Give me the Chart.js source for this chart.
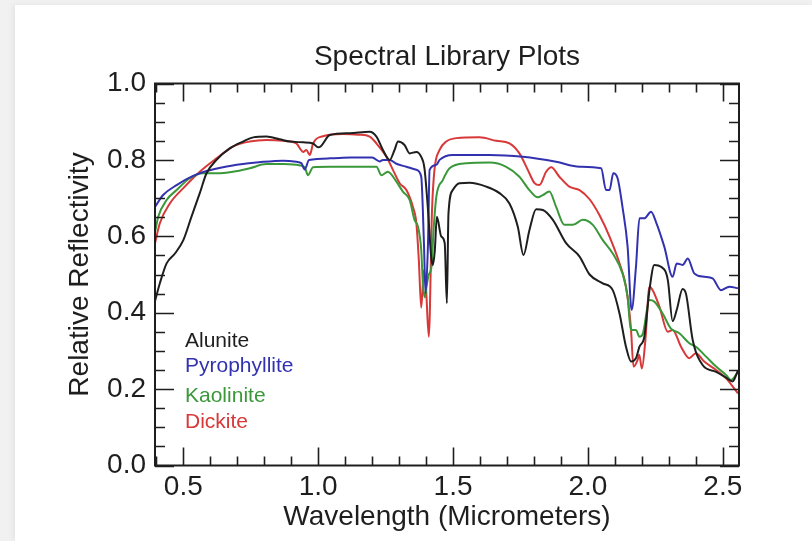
<!DOCTYPE html>
<html>
<head>
<meta charset="utf-8">
<title>Spectral Library Plots</title>
<script src="https://cdn.jsdelivr.net/npm/chart.js@4.4.1/dist/chart.umd.min.js"></script>
<style>
  html, body { margin: 0; padding: 0; background: #f1f1f1; }
  .card { position: absolute; left: 15px; top: 5px; right: 0; bottom: 0; background: #fff;
          box-shadow: -2px 0 6px rgba(0,0,0,0.06); }
  #wrap { position: absolute; left: 0; top: 0; width: 812px; height: 541px; }
</style>
</head>
<body>
<div class="card"></div>
<div id="wrap"><canvas id="spectra" width="812" height="541"></canvas></div>
<script>
// ── Spectra (wavelength µm, relative reflectivity) ───────────
const alunite = [
  [0.395, 0.43], [0.413, 0.477], [0.438, 0.529], [0.469, 0.555], [0.50, 0.59],
  [0.53, 0.651], [0.561, 0.713], [0.586, 0.765], [0.623, 0.80], [0.672, 0.83],
  [0.721, 0.848], [0.759, 0.859], [0.808, 0.861], [0.857, 0.854], [0.894, 0.848],
  [0.944, 0.846], [0.981, 0.843], [1.0, 0.833], [1.01, 0.836], [1.043, 0.865],
  [1.117, 0.870], [1.191, 0.874], [1.216, 0.861], [1.24, 0.826], [1.265, 0.80],
  [1.283, 0.826], [1.296, 0.848], [1.32, 0.839], [1.339, 0.817], [1.364, 0.821],
  [1.382, 0.808], [1.394, 0.778], [1.407, 0.669], [1.419, 0.545], [1.425, 0.525],
  [1.432, 0.56], [1.44, 0.651], [1.456, 0.60], [1.469, 0.582], [1.477, 0.425],
  [1.483, 0.66], [1.499, 0.721], [1.524, 0.739], [1.561, 0.740], [1.623, 0.730],
  [1.672, 0.713], [1.709, 0.686], [1.740, 0.625], [1.761, 0.551], [1.783, 0.616],
  [1.808, 0.671], [1.833, 0.669], [1.87, 0.643], [1.919, 0.582], [1.969, 0.547],
  [2.006, 0.50], [2.055, 0.477], [2.092, 0.459], [2.117, 0.398], [2.141, 0.311],
  [2.16, 0.272], [2.178, 0.281], [2.191, 0.311], [2.209, 0.337], [2.228, 0.459],
  [2.246, 0.525], [2.271, 0.52], [2.296, 0.486], [2.314, 0.378], [2.329, 0.407],
  [2.351, 0.462], [2.364, 0.448], [2.388, 0.33], [2.425, 0.263], [2.475, 0.245],
  [2.512, 0.23], [2.536, 0.22], [2.556, 0.248],
];

const pyrophyllite = [
  [0.395, 0.677], [0.425, 0.708], [0.475, 0.734], [0.536, 0.758], [0.586, 0.771],
  [0.647, 0.781], [0.721, 0.789], [0.796, 0.795], [0.870, 0.798], [0.919, 0.795],
  [0.938, 0.791], [0.95, 0.775], [0.966, 0.80], [1.043, 0.804], [1.12, 0.806],
  [1.20, 0.806], [1.228, 0.796], [1.24, 0.80], [1.265, 0.80], [1.29, 0.79],
  [1.327, 0.782], [1.364, 0.774], [1.382, 0.756], [1.392, 0.582], [1.398, 0.451],
  [1.407, 0.58], [1.413, 0.774], [1.438, 0.787], [1.45, 0.80], [1.499, 0.813],
  [1.635, 0.813], [1.759, 0.808], [1.882, 0.795], [1.969, 0.782], [2.049, 0.778],
  [2.067, 0.721], [2.08, 0.721], [2.094, 0.765], [2.11, 0.752], [2.128, 0.677],
  [2.147, 0.573], [2.162, 0.407], [2.178, 0.52], [2.191, 0.647], [2.209, 0.647],
  [2.234, 0.664], [2.252, 0.638], [2.283, 0.573], [2.314, 0.494], [2.329, 0.529],
  [2.351, 0.525], [2.37, 0.542], [2.394, 0.503], [2.431, 0.494], [2.462, 0.49],
  [2.493, 0.459], [2.524, 0.468], [2.556, 0.464],
];

const kaolinite = [
  [0.395, 0.61], [0.407, 0.651], [0.438, 0.695], [0.475, 0.721], [0.524, 0.752],
  [0.573, 0.765], [0.623, 0.765], [0.684, 0.769], [0.746, 0.778], [0.808, 0.789],
  [0.870, 0.789], [0.919, 0.787], [0.95, 0.781], [0.962, 0.76], [0.981, 0.781],
  [1.043, 0.782], [1.13, 0.782], [1.216, 0.782], [1.234, 0.76], [1.258, 0.769],
  [1.29, 0.743], [1.314, 0.717], [1.339, 0.695], [1.357, 0.643], [1.37, 0.625],
  [1.382, 0.564], [1.388, 0.477], [1.395, 0.44], [1.402, 0.47], [1.41, 0.50],
  [1.42, 0.52], [1.428, 0.62], [1.438, 0.704], [1.462, 0.747], [1.487, 0.778],
  [1.549, 0.791], [1.635, 0.793], [1.697, 0.782], [1.746, 0.756], [1.783, 0.721],
  [1.814, 0.702], [1.833, 0.708], [1.857, 0.717], [1.882, 0.677], [1.913, 0.63],
  [1.944, 0.63], [1.981, 0.643], [2.018, 0.63], [2.055, 0.59], [2.092, 0.555],
  [2.128, 0.503], [2.147, 0.442], [2.159, 0.355], [2.178, 0.355], [2.191, 0.337],
  [2.203, 0.344], [2.228, 0.433], [2.246, 0.429], [2.277, 0.398], [2.307, 0.359],
  [2.339, 0.346], [2.376, 0.32], [2.4, 0.311], [2.438, 0.285], [2.475, 0.259],
  [2.512, 0.237], [2.53, 0.224], [2.556, 0.245],
];

const dickite = [
  [0.395, 0.582], [0.413, 0.634], [0.45, 0.686], [0.50, 0.726], [0.561, 0.769],
  [0.623, 0.804], [0.684, 0.835], [0.746, 0.848], [0.808, 0.852], [0.870, 0.85],
  [0.919, 0.843], [0.944, 0.821], [0.956, 0.826], [0.969, 0.813], [0.981, 0.843],
  [1.018, 0.862], [1.092, 0.868], [1.15, 0.866], [1.191, 0.861], [1.216, 0.843],
  [1.253, 0.808], [1.277, 0.774], [1.302, 0.739], [1.327, 0.721], [1.351, 0.677],
  [1.364, 0.634], [1.373, 0.538], [1.382, 0.413], [1.392, 0.512], [1.40, 0.46],
  [1.41, 0.337], [1.422, 0.669], [1.431, 0.774], [1.45, 0.826], [1.475, 0.848],
  [1.512, 0.857], [1.598, 0.859], [1.66, 0.85], [1.709, 0.843], [1.746, 0.817],
  [1.777, 0.774], [1.802, 0.739], [1.82, 0.734], [1.845, 0.769], [1.864, 0.781],
  [1.894, 0.756], [1.931, 0.73], [1.969, 0.721], [2.006, 0.697], [2.043, 0.655],
  [2.08, 0.599], [2.117, 0.529], [2.141, 0.468], [2.159, 0.363], [2.169, 0.259],
  [2.184, 0.276], [2.19, 0.29], [2.2, 0.254], [2.213, 0.329], [2.228, 0.468],
  [2.24, 0.459], [2.265, 0.416], [2.296, 0.35], [2.314, 0.355], [2.345, 0.311],
  [2.376, 0.281], [2.4, 0.294], [2.431, 0.272], [2.475, 0.25], [2.512, 0.228],
  [2.556, 0.189],
];

const minerals = ['Alunite', 'Pyrophyllite', 'Kaolinite', 'Dickite'];
const colors   = ['#1e1e1e', '#3232b0', '#3a983a', '#d83838'];
const spectra  = [alunite, pyrophyllite, kaolinite, dickite];

const FONT = '"Liberation Sans", Arial, Helvetica, sans-serif';
const INK  = '#1e1e1e';

const isMajor = (v, step) => Math.abs(v / step - Math.round(v / step)) < 1e-6;

// ── Frame, inward ticks on all four sides, in-plot legend ────
const frameTicks = {
  id: 'frameTicks',
  afterDatasetsDraw(chart) {
    const { ctx, chartArea: a, scales: { x, y } } = chart;
    ctx.save();
    ctx.strokeStyle = INK;
    ctx.lineWidth = 1.6;
    ctx.beginPath();
    x.ticks.forEach(t => {
      const px = Math.round(x.getPixelForValue(t.value)) + 0.5;
      const len = isMajor(t.value, 0.5) ? 18 : 9;
      ctx.moveTo(px, a.bottom); ctx.lineTo(px, a.bottom - len);
      ctx.moveTo(px, a.top);    ctx.lineTo(px, a.top + len);
    });
    y.ticks.forEach(t => {
      const py = Math.round(y.getPixelForValue(t.value)) + 0.5;
      const len = isMajor(t.value, 0.2) ? 19 : 10;
      ctx.moveTo(a.left, py);  ctx.lineTo(a.left + len, py);
      ctx.moveTo(a.right, py); ctx.lineTo(a.right - len, py);
    });
    ctx.stroke();
    ctx.lineWidth = 2;
    ctx.strokeRect(a.left, a.top, a.right - a.left, a.bottom - a.top);

    // legend text, one coloured row per mineral
    const rows = [257.5, 283, 313, 338.5];
    ctx.font = '21px ' + FONT;
    ctx.textBaseline = 'middle';
    ctx.textAlign = 'left';
    chart.data.datasets.forEach((ds, i) => {
      ctx.fillStyle = ds.borderColor;
      ctx.fillText(ds.label, a.left + 30, a.top + rows[i]);
    });
    ctx.restore();
  },
};

Chart.defaults.font.family = FONT;
Chart.defaults.font.size = 28;
Chart.defaults.color = INK;

const ctx = document.getElementById('spectra').getContext('2d');

new Chart(ctx, {
  type: 'line',
  data: {
    datasets: minerals.map((name, i) => ({
      label: name,
      data: spectra[i].map(([w, r]) => ({ x: w, y: r })),
      borderColor: colors[i],
      borderWidth: 2,
      pointRadius: 0,
      cubicInterpolationMode: 'monotone',
      fill: false,
    })),
  },
  options: {
    responsive: false,
    animation: false,
    layout: { padding: { left: 50, right: 73, top: 20, bottom: 0 } },
    scales: {
      x: {
        type: 'linear',
        min: 0.395,
        max: 2.56,
        grid: { display: false, drawTicks: false },
        border: { display: false },
        ticks: {
          stepSize: 0.1,
          includeBounds: false,
          autoSkip: false,
          maxRotation: 0,
          minRotation: 0,
          padding: 5,
          callback: v => isMajor(v, 0.5) ? v.toFixed(1) : '',
        },
        title: {
          display: true,
          text: 'Wavelength (Micrometers)',
          padding: { top: 0, bottom: 7 },
        },
        afterFit: s => { s.height = 75.5; },
      },
      y: {
        min: 0,
        max: 1,
        grid: { display: false, drawTicks: false },
        border: { display: false },
        ticks: {
          stepSize: 0.05,
          autoSkip: false,
          padding: 9,
          callback: v => isMajor(v, 0.2) ? v.toFixed(1) : '',
        },
        title: {
          display: true,
          text: 'Relative Reflectivity',
          padding: { top: 13, bottom: 0 },
        },
        afterFit: s => { s.width = 105; },
      },
    },
    plugins: {
      legend: { display: false },
      tooltip: { enabled: false },
      title: {
        display: true,
        text: 'Spectral Library Plots',
        fullSize: false,
        font: { size: 28, weight: 'normal' },
        color: INK,
        padding: { top: 20.2, bottom: 9.7 },
      },
    },
  },
  plugins: [frameTicks],
});
</script>
</body>
</html>
